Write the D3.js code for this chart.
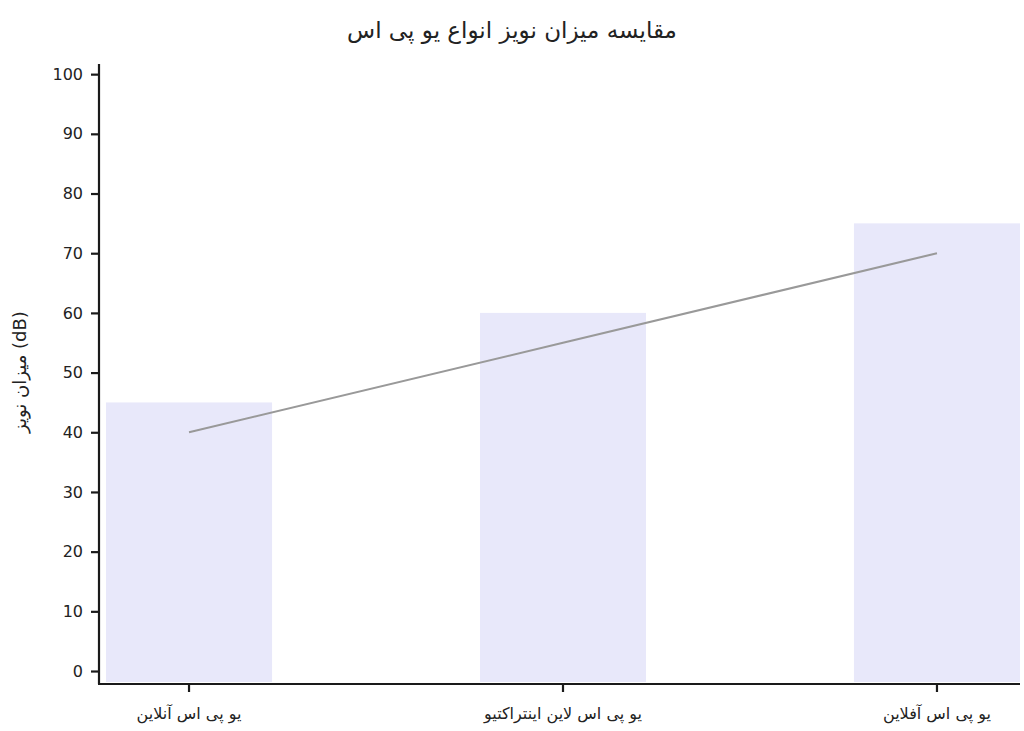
<!DOCTYPE html>
<html><head><meta charset="utf-8">
<script src="https://cdn.jsdelivr.net/npm/d3@7"></script>
<style>body{margin:0;background:#fff}</style>
</head><body>
<svg id="c" width="1024" height="731"></svg>
<script>
const categories = ["یو پی اس آنلاین", "یو پی اس لاین اینتراکتیو", "یو پی اس آفلاین"];
const barValues = [45, 60, 75];
const lineValues = [40, 55, 70];
const yTicks = [0,10,20,30,40,50,60,70,80,90,100];
const title = "مقایسه میزان نویز انواع یو پی اس";
const yLabel = "میزان نویز (dB)";

(function(){
const svg = d3.select("#c");
const pl = 106, pr = 1020, pt = 64, pb = 682;
const x = d3.scaleBand().domain(categories).range([pl, pr]).paddingInner(0.556).paddingOuter(0);
const y = d3.scaleLinear().domain([-1.84, 101.7]).range([pb, pt]);

svg.selectAll("rect.bar").data(barValues).join("rect")
  .attr("class","bar")
  .attr("x",(d,i)=>x(categories[i]))
  .attr("width",x.bandwidth())
  .attr("y",d=>y(d))
  .attr("height",d=>y(-1.84)-y(d))
  .attr("fill","#e8e8fa");

const line = d3.line().x((d,i)=>x(categories[i])+x.bandwidth()/2).y(d=>y(d));
svg.append("path").datum(lineValues).attr("d",line)
  .attr("fill","none").attr("stroke","#999").attr("stroke-width",2);

const font = "'DejaVu Sans', sans-serif";
const yAxis = svg.append("g").attr("transform","translate(99,0)")
  .call(d3.axisLeft(y).tickValues(yTicks).tickSize(8).tickPadding(8).tickSizeOuter(0));
yAxis.select(".domain").attr("d",`M0,${pt}V684`);
const xAxis = svg.append("g").attr("transform","translate(0,684)")
  .call(d3.axisBottom(x).tickSize(8).tickPadding(16).tickSizeOuter(0));
xAxis.select(".domain").attr("d",`M98,0H1020`);
[yAxis,xAxis].forEach(g=>{
  g.select(".domain").attr("stroke","#1a1a1a").attr("stroke-width",2.2);
  g.selectAll(".tick line").attr("stroke","#1a1a1a").attr("stroke-width",2.2);
});
yAxis.selectAll("text").attr("font-family",font).attr("font-size",16).attr("fill","#222");
xAxis.selectAll("text").attr("font-family",font).attr("font-size",16).attr("fill","#222");

svg.append("text").attr("x",512).attr("y",38).attr("text-anchor","middle")
  .attr("font-family",font).attr("font-size",23).attr("fill","#222").text(title);
svg.append("text").attr("transform","translate(26,372) rotate(-90)").attr("text-anchor","middle")
  .attr("font-family",font).attr("font-size",18).attr("fill","#222").text(yLabel);
})();
</script>
</body></html>
